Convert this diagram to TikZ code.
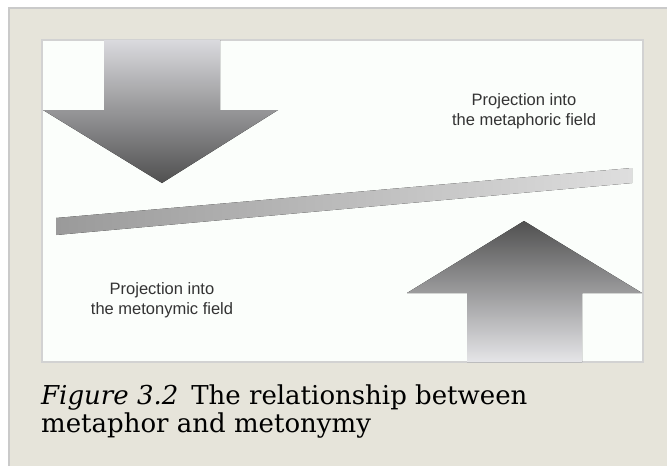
\documentclass[tikz,border=0pt]{standalone}
\usepackage{fontspec}
\setmainfont{DejaVu Serif}
\newfontfamily\labelfont{Liberation Sans}
\usepackage{tikz}
\usetikzlibrary{positioning}
\definecolor{pagebeige}{HTML}{E6E4DA}
\definecolor{frameline}{HTML}{CACACA}
\definecolor{panelwhite}{HTML}{FBFEFB}
\definecolor{panelline}{HTML}{D2D2D2}
\definecolor{arrowdark}{HTML}{505050}
\definecolor{arrowlight}{HTML}{DADADE}
\definecolor{bardark}{HTML}{9A9A9A}
\definecolor{barlight}{HTML}{DEDEDE}
\definecolor{labelgray}{HTML}{333333}

\begin{document}
\begin{tikzpicture}[x=1pt, y=-1pt,
  fieldlabel/.style={font=\labelfont\fontsize{16.5}{20}\selectfont, text=labelgray, align=center},
  captiontext/.style={font=\fontsize{26}{27.5}\selectfont, align=left, inner sep=0pt}]
  \useasboundingbox (0,0) rectangle (667,466);

  % Page background and frame
  \fill[white] (0,0) rectangle (667,466);
  \filldraw[fill=pagebeige, draw=frameline, line width=1.5pt] (9,8) rectangle (672,472);

  % White figure panel
  \filldraw[fill=panelwhite, draw=panelline, line width=1.3pt] (42,40) rectangle (643,362);

  % Down arrow - projection into the metaphoric field
  \fill[top color=arrowlight, bottom color=arrowdark]
    (104,40) -- (220,40) -- (220,110) -- (278,110) -- (162,183) -- (43,110) -- (104,110) -- cycle;

  % Sloping bar between the two fields
  \fill[left color=bardark, right color=barlight]
    (56,218) -- (632,168) -- (632,183) -- (56,235) -- cycle;

  % Up arrow - projection into the metonymic field
  \fill[top color=arrowdark, bottom color=arrowlight!70!white]
    (524,221) -- (642,293) -- (582,293) -- (582,362) -- (467,362) -- (467,293) -- (407,293) -- cycle;

  % Field labels
  \node[fieldlabel] (metaphoric) at (524,111) {Projection into\\the metaphoric field};
  \node[fieldlabel] (metonymic) at (162,300) {Projection into\\the metonymic field};

  % Caption (base anchor sits on the last line)
  \node[captiontext, anchor=base west] (caption) at (41,432)
    {\textit{Figure 3.2}\enspace The relationship between\\metaphor and metonymy};
\end{tikzpicture}
\end{document}
